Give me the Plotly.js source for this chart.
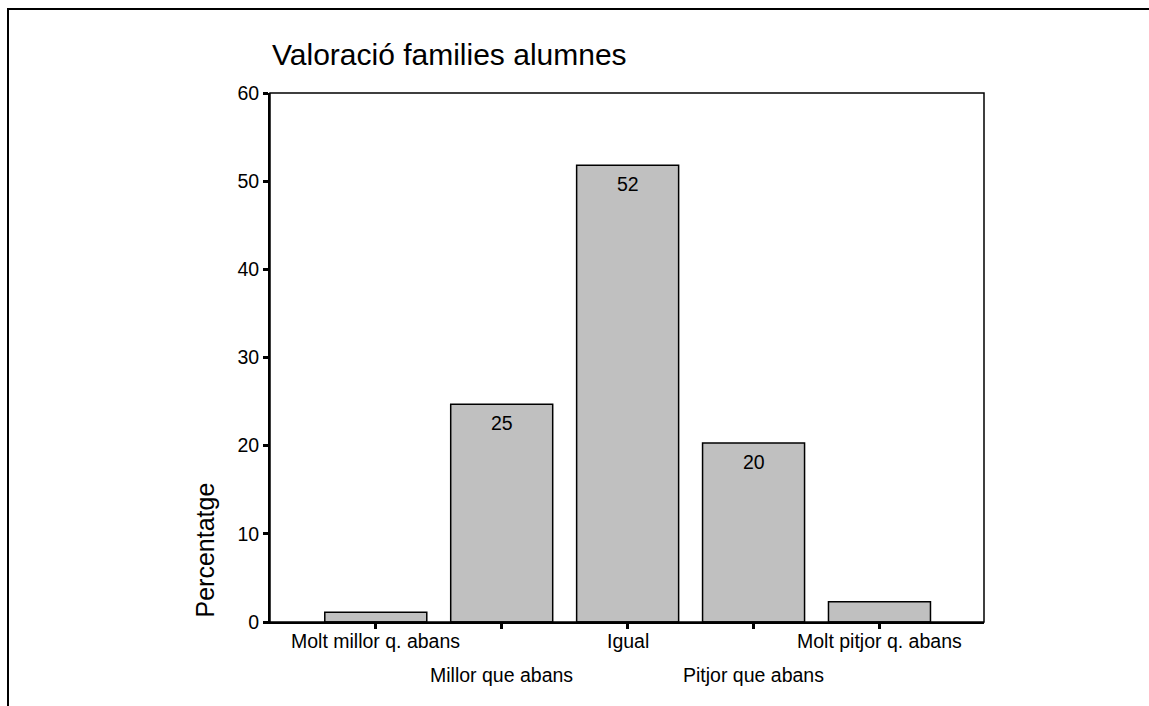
<!DOCTYPE html>
<html>
<head>
<meta charset="utf-8">
<script src="https://cdn.plot.ly/plotly-3.0.1.min.js"></script>
<style>
html,body{margin:0;padding:0;background:#fff;}
#frame{position:absolute;left:7px;top:8px;width:1160px;height:720px;border-left:2px solid #000;border-top:2px solid #000;}
#chart{position:absolute;left:0;top:0;width:1149px;height:706px;}
</style>
</head>
<body>
<div id="frame"></div>
<div id="chart"></div>
<script>
const categories = ["Molt millor q. abans","Millor que abans","Igual","Pitjor que abans","Molt pitjor q. abans"];
const percentages = [1.1, 24.7, 51.8, 20.3, 2.3];
const barLabels = ["", "25", "52", "20", ""];
const yTicks = [0,10,20,30,40,50,60];

const font = "Liberation Sans, Arial, sans-serif";
const idx = categories.map((c,i)=>i);

const trace = {
  type: 'bar',
  x: idx,
  y: percentages,
  width: 0.81,
  marker: {color: '#c0c0c0', line: {color: '#000', width: 1.5}},
  hoverinfo: 'skip'
};

const annotations = [];
categories.forEach((c,i)=>{
  annotations.push({
    x: i, y: 0, xref: 'x', yref: 'y', text: c, showarrow: false,
    yanchor: 'middle', yshift: (i % 2 === 0) ? -19 : -53,
    font: {family: font, size: 19.5, color: '#000'}
  });
  if (barLabels[i]) {
    annotations.push({
      x: i, y: percentages[i], xref: 'x', yref: 'y', text: barLabels[i], showarrow: false,
      yanchor: 'middle', yshift: -18.5,
      font: {family: font, size: 19.5, color: '#000'}
    });
  }
});
annotations.push({
  x: 0, y: 0, xref: 'paper', yref: 'paper', xshift: -66, yshift: 2,
  text: 'Percentatge', showarrow: false, textangle: -90,
  xanchor: 'center', yanchor: 'bottom',
  font: {family: font, size: 25, color: '#000'}
});

const layout = {
  width: 1149, height: 706,
  margin: {l: 270, r: 165, t: 93, b: 84},
  paper_bgcolor: 'rgba(0,0,0,0)',
  plot_bgcolor: '#fff',
  showlegend: false,
  title: {text: 'Valoració families alumnes', x: 272/1149, xanchor: 'left', y: 1 - 54/706, yanchor: 'middle',
          font: {family: font, size: 30, color: '#000'}},
  xaxis: {
    range: [-0.84, 4.83], tickvals: idx, ticktext: categories.map(()=>''),
    showline: true, linecolor: '#000', linewidth: 2,
    ticks: 'outside', ticklen: 5, tickwidth: 3, tickcolor: '#000',
    showgrid: false, zeroline: false, fixedrange: true
  },
  yaxis: {
    range: [0, 60], tickvals: yTicks, ticktext: yTicks.map(String),
    showline: true, linecolor: '#000', linewidth: 2,
    ticks: 'outside', ticklen: 5, tickwidth: 3, tickcolor: '#000',
    tickfont: {family: font, size: 19.5, color: '#000'},
    showgrid: false, zeroline: false, fixedrange: true
  },
  shapes: [{type: 'rect', xref: 'paper', yref: 'paper', x0: 0, x1: 1, y0: 0, y1: 1,
            line: {color: '#000', width: 1.5}}],
  annotations: annotations
};

Plotly.newPlot('chart', [trace], layout, {displayModeBar: false, staticPlot: true});
</script>
</body>
</html>
